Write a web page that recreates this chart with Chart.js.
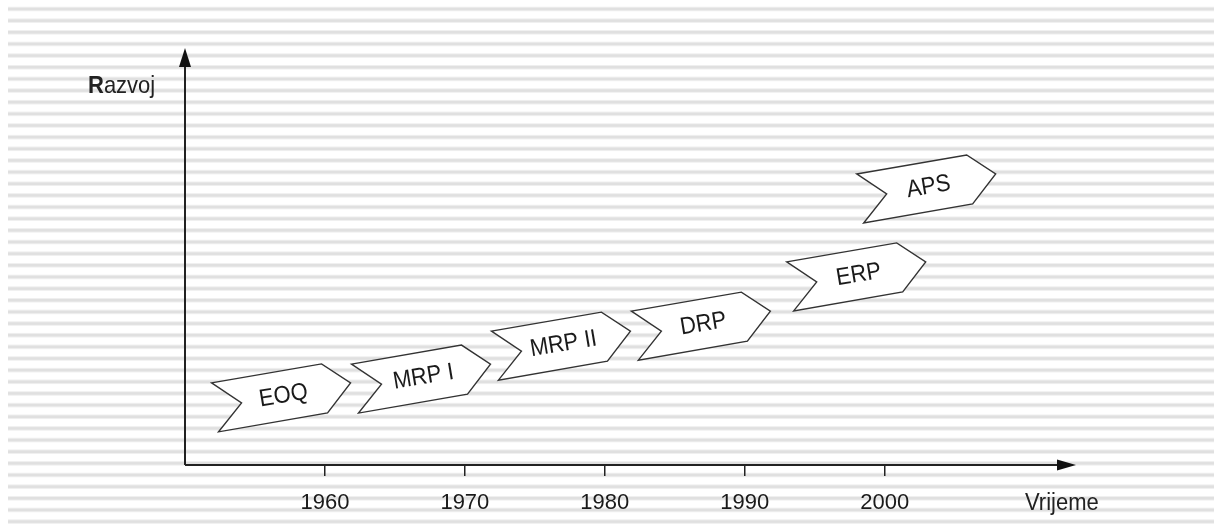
<!DOCTYPE html>
<html>
<head>
<meta charset="utf-8">
<script src="https://cdn.jsdelivr.net/npm/chart.js@4/dist/chart.umd.min.js"></script>
<style>
  html, body { margin: 0; padding: 0; background: #fff; }
  canvas { display: block; }
</style>
</head>
<body>
<canvas id="chart" width="1214" height="526"></canvas>
<script>
// Stages of development (label, centre year, level on the "Razvoj" axis)
const stages = ['EOQ', 'MRP I', 'MRP II', 'DRP', 'ERP', 'APS'];
const stageYears = [1956.9, 1966.9, 1976.9, 1986.9, 1998.0, 2003.0];
const stageLevels = [16.1, 20.6, 28.5, 33.3, 45.1, 66.2];
const tickYears = [1960, 1970, 1980, 1990, 2000];

// Chevron outline relative to its centre (px)
const chevron = [[-70, -15], [40, -34], [69, -15], [46, 15], [-63, 34], [-40, 5]];

const FONT = 'Arial, "Liberation Sans", sans-serif';

// Striped background
const stripes = {
    id: 'stripes',
    beforeDraw(chart) {
        const ctx = chart.ctx;
        ctx.save();
        ctx.fillStyle = '#fff';
        ctx.fillRect(0, 0, chart.width, chart.height);
        for (let y = 7.5; y < 524; y += 11.65) {
            ctx.fillStyle = '#f0f0f0';
            ctx.fillRect(8, y - 0.8, chart.width - 8, 4.6);
            ctx.fillStyle = '#e0e0e0';
            ctx.fillRect(8, y + 0.2, chart.width - 8, 2.6);
        }
        ctx.restore();
    }
};

// Text slightly stretched vertically, as in the original drawing
function tallText(ctx, text, x, y, angle, align) {
    ctx.save();
    ctx.translate(x, y);
    ctx.rotate(angle);
    ctx.scale(1, 1.1);
    ctx.textAlign = align;
    ctx.textBaseline = 'middle';
    ctx.fillText(text, 0, 0);
    ctx.restore();
}

// Chevrons with labels, drawn at each point's position
const chevrons = {
    id: 'chevrons',
    afterDatasetsDraw(chart) {
        const ctx = chart.ctx;
        const meta = chart.getDatasetMeta(0);
        ctx.save();
        meta.data.forEach((pt, i) => {
            const cx = pt.x, cy = pt.y;
            ctx.beginPath();
            chevron.forEach(([dx, dy], j) => {
                if (j === 0) ctx.moveTo(cx + dx, cy + dy);
                else ctx.lineTo(cx + dx, cy + dy);
            });
            ctx.closePath();
            ctx.fillStyle = '#fff';
            ctx.fill();
            ctx.lineWidth = 1.4;
            ctx.strokeStyle = '#333';
            ctx.stroke();

            ctx.fillStyle = '#1a1a1a';
            ctx.font = '22px ' + FONT;
            tallText(ctx, stages[i], cx + 2, cy - 2, -9.5 * Math.PI / 180, 'center');
        });
        ctx.restore();
    }
};

// Axes with arrow heads and axis names
const axes = {
    id: 'axes',
    afterDraw(chart) {
        const ctx = chart.ctx;
        const a = chart.chartArea;
        ctx.save();
        ctx.strokeStyle = '#222';
        ctx.fillStyle = '#111';
        ctx.lineWidth = 2;
        ctx.beginPath();
        ctx.moveTo(a.left, a.bottom);
        ctx.lineTo(a.left, a.top + 15);
        ctx.moveTo(a.left, a.bottom);
        ctx.lineTo(a.right - 15, a.bottom);
        ctx.stroke();

        // y arrow
        ctx.beginPath();
        ctx.moveTo(a.left, a.top);
        ctx.lineTo(a.left - 6, a.top + 19);
        ctx.lineTo(a.left + 6, a.top + 19);
        ctx.closePath();
        ctx.fill();
        // x arrow
        ctx.beginPath();
        ctx.moveTo(a.right + 1, a.bottom);
        ctx.lineTo(a.right - 18, a.bottom - 5.5);
        ctx.lineTo(a.right - 18, a.bottom + 5.5);
        ctx.closePath();
        ctx.fill();

        ctx.fillStyle = '#222';
        ctx.font = 'bold 22px ' + FONT;
        tallText(ctx, 'R', 88, 86, 0, 'left');
        const rw = ctx.measureText('R').width;
        ctx.font = '22px ' + FONT;
        tallText(ctx, 'azvoj', 88 + rw, 86, 0, 'left');
        tallText(ctx, 'Vrijeme', 1025, 503, 0, 'left');
        ctx.restore();
    }
};

new Chart(document.getElementById('chart'), {
    type: 'scatter',
    data: {
        datasets: [{
            data: stageYears.map((y, i) => ({ x: y, y: stageLevels[i] })),
            pointRadius: 0,
            pointHoverRadius: 0
        }]
    },
    options: {
        responsive: false,
        animation: false,
        events: [],
        layout: { padding: { left: 185, right: 139, top: 48, bottom: 0 } },
        plugins: { legend: { display: false }, tooltip: { enabled: false } },
        scales: {
            x: {
                type: 'linear',
                min: 1950,
                max: 2013.6,
                afterBuildTicks: scale => { scale.ticks = tickYears.map(v => ({ value: v })); },
                afterFit: scale => { scale.height = 61; },
                border: { display: false },
                grid: {
                    display: true,
                    drawOnChartArea: false,
                    drawTicks: true,
                    tickLength: 11,
                    color: '#222',
                    lineWidth: 1.5
                },
                ticks: {
                    color: '#1a1a1a',
                    padding: 14,
                    maxRotation: 0,
                    font: { family: FONT, size: 22 },
                    callback: v => String(v)
                }
            },
            y: {
                min: 0,
                max: 100,
                display: false
            }
        }
    },
    plugins: [stripes, chevrons, axes]
});
</script>
</body>
</html>
